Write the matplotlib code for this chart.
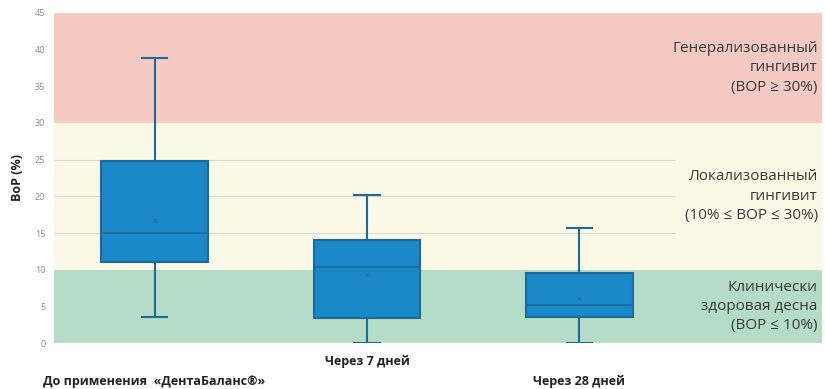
import matplotlib
matplotlib.use("Agg")
import matplotlib.pyplot as plt

plt.rcParams['font.family'] = ['Open Sans', 'DejaVu Sans']

# box statistics
groups = ['До применения  «ДентаБаланс®»', 'Через 7 дней', 'Через 28 дней']
whislo = [3.5, 0.0, 0.0]
q1 = [11.0, 3.4, 3.5]
med = [15.0, 10.4, 5.2]
q3 = [24.8, 14.1, 9.5]
whishi = [38.8, 20.2, 15.7]
means = [16.8, 9.3, 6.1]

# zones
zone_edges = [0, 10, 30, 45]
zone_colors = ['#b4dcc6', '#faf8e6', '#f5cac3']
zone_texts = ['Клинически\nздоровая десна\n(BOP ≤ 10%)',
              'Локализованный\nгингивит\n(10% ≤ BOP ≤ 30%)',
              'Генерализованный\nгингивит\n(BOP ≥ 30%)']

fig = plt.figure(figsize=(8.25, 3.89), dpi=100)
ax = fig.add_axes([0.065, 0.118, 0.931, 0.849])

for i in range(3):
    ax.axhspan(zone_edges[i], zone_edges[i + 1], color=zone_colors[i], zorder=0, lw=0)
    ax.text(0.995, (zone_edges[i] + zone_edges[i + 1]) / 2, zone_texts[i],
            transform=ax.get_yaxis_transform(), ha='right', va='center',
            fontsize=11, color='#3a3a3a', linespacing=1.4, zorder=3)

for y in [15, 20, 25]:
    ax.plot([-0.475, 2.45], [y, y], color='#dcdccc', lw=0.8, zorder=1)

stats = []
for i in range(len(groups)):
    stats.append(dict(whislo=whislo[i], q1=q1[i], med=med[i], q3=q3[i],
                      whishi=whishi[i], mean=means[i], fliers=[]))

line_c = '#1e6b98'
ax.bxp(stats, positions=[0, 1, 2], widths=0.5, capwidths=0.12,
       patch_artist=True, showmeans=True, showfliers=False,
       boxprops=dict(facecolor='#1b88ca', edgecolor=line_c, lw=1.5),
       medianprops=dict(color=line_c, lw=1.2),
       whiskerprops=dict(color=line_c, lw=1.5),
       capprops=dict(color=line_c, lw=1.5),
       meanprops=dict(marker='x', markersize=3, markeredgecolor='#2a6d9a', markeredgewidth=0.8),
       zorder=2)

ax.set_xlim(-0.475, 3.14)
ax.set_ylim(0, 45)
ax.set_yticks(range(0, 50, 5))
ax.tick_params(axis='y', length=0, labelsize=6.5, labelcolor='#8a8a8a', pad=6)
ax.set_xticks([0, 1, 2])
ax.set_xticklabels(groups, fontsize=9, fontweight='bold', color='#222222')
ax.tick_params(axis='x', length=0)
pads = [23, 8.5, 23]
for t, p in zip(ax.xaxis.get_major_ticks(), pads):
    t.set_pad(p)
for s in ax.spines.values():
    s.set_visible(False)

ax.set_ylabel('BoP (%)', fontsize=9, fontweight='bold', color='#222222', labelpad=8)

fig.savefig('out.png', dpi=100)
